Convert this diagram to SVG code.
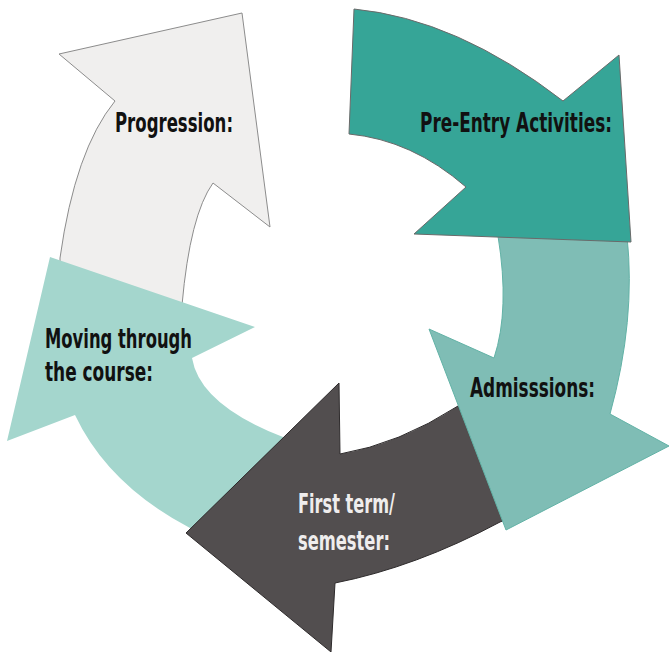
<svg xmlns="http://www.w3.org/2000/svg" width="669" height="652" viewBox="0 0 669 652">
<style>
.lbl{font-family:"DejaVu Sans Condensed","Liberation Sans Narrow","Liberation Sans",sans-serif;font-weight:bold;font-size:27px;fill:#111}
.lt{fill:#efeded}
</style>
<rect width="669" height="652" fill="#ffffff"/>
<g id="connectors"></g>
<g id="progression">
<path d="M242,13 L270,227 L213,183 Q190,215 182,305 L60,290 L60,258 Q75,150 115,101 L59,54 Z" fill="#f0efee" stroke="#8c8c8c" stroke-width="1"/>
<text class="lbl" x="115" y="132" textLength="118" lengthAdjust="spacingAndGlyphs">Progression:</text>
</g>
<g id="moving">
<path d="M50,257 L255,327 L192,358 Q200,405 283,437 L300,455 L230,550 L190,528 Q108,485 75,415 L7,441 Z" fill="#a4d6cd"/>
<text class="lbl" x="45" y="348" textLength="147" lengthAdjust="spacingAndGlyphs">Moving through</text>
<text class="lbl" x="45" y="381" textLength="108" lengthAdjust="spacingAndGlyphs">the course:</text>
</g>
<g id="firstterm">
<path d="M490,460 L458,406 Q399,444 340,454 L339,383 L186,533 L331,652 L335,583 Q416,567 500,522 L510,518 Z" fill="#524e4f" stroke="#2e2b2c" stroke-width="1"/>
<text class="lbl lt" x="298" y="513" textLength="97" lengthAdjust="spacingAndGlyphs">First term/</text>
<text class="lbl lt" x="298" y="550" textLength="92" lengthAdjust="spacingAndGlyphs">semester:</text>
</g>
<g id="admissions">
<path d="M498,236 L627,236 Q636,320 610,414 L669,446 L506,530 L429,329 L494,358 Q510,310 498,236 Z" fill="#7fbdb5" stroke="#62b2a6" stroke-width="1"/>
<text class="lbl" x="470" y="397" textLength="125" lengthAdjust="spacingAndGlyphs">Admisssions:</text>
</g>
<g id="preentry">
<path d="M354,9 Q457,19 563,101 L619,55 L631,242 L414,234 L466,187 Q412,140 349,134 Z" fill="#36a597" stroke="#6a6a6a" stroke-width="1"/>
<text class="lbl" x="420" y="132" textLength="192" lengthAdjust="spacingAndGlyphs">Pre-Entry Activities:</text>
</g>
</svg>
